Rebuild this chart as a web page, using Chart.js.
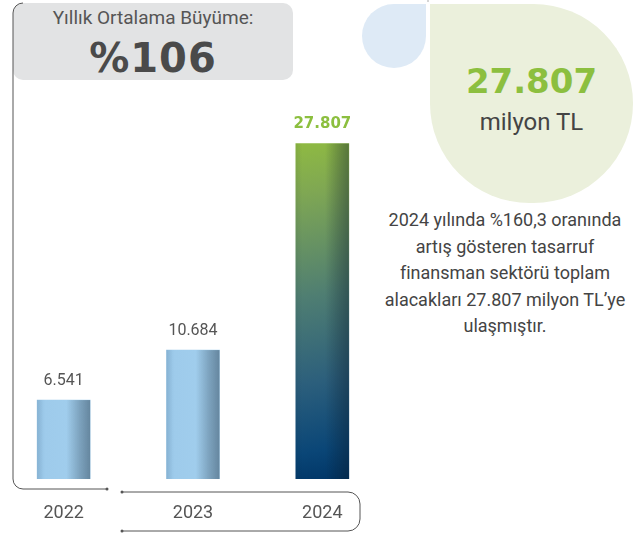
<!DOCTYPE html>
<html lang="tr">
<head>
<meta charset="utf-8">
<script src="https://cdn.jsdelivr.net/npm/chart.js@4/dist/chart.umd.min.js"></script>
<style>
  html, body { margin: 0; padding: 0; background: #fff; }
  body { width: 641px; height: 533px; position: relative; overflow: hidden; font-family: Roboto, "Noto Sans", sans-serif; color: #4d4d4d; }
  .abs { position: absolute; }
  .kalin { font-family: "DejaVu Sans", sans-serif; font-weight: 700; }
  #kutu { left: 13px; top: 3px; width: 280px; height: 77px; background: #e2e3e4; border-radius: 10px; }
  #baslik { left: 13px; top: 8px; width: 280px; text-align: center; font-size: 19px; line-height: 19px; color: #555; }
  #oran { left: 13px; top: 38px; width: 280px; text-align: center; font-size: 40px; line-height: 40px; color: #4a4a4a; letter-spacing: 1px; }
  #mavi { left: 362px; top: 4px; width: 64px; height: 64px; background: #deeaf6; border-radius: 32px 0 32px 32px; }
  #yesil { left: 430px; top: 4px; width: 203px; height: 199px; background: #ebf0dc; border-radius: 0 100px 100px 100px; }
  #toplam { left: 430px; top: 64px; width: 203px; text-align: center; font-size: 34px; line-height: 34px; color: #8cbf3f; }
  #birim { left: 430px; top: 110px; width: 203px; text-align: center; font-size: 24px; line-height: 24px; color: #444; }
  #metin { left: 370px; top: 207px; width: 270px; text-align: center; font-size: 18px; line-height: 26.5px; color: #444; }
  #grafik { position: absolute; left: -1px; top: 0; }
  svg { position: absolute; left: 0; top: 0; }
</style>
</head>
<body>
<div id="kutu" class="abs"></div>
<div id="baslik" class="abs">Yıllık Ortalama Büyüme:</div>
<div id="oran" class="abs kalin">%106</div>
<div id="mavi" class="abs"></div>
<div id="yesil" class="abs"></div>
<div id="toplam" class="abs kalin">27.807</div>
<div id="birim" class="abs">milyon TL</div>
<div id="metin" class="abs">2024 yılında %160,3 oranında<br>artış gösteren tasarruf<br>finansman sektörü toplam<br>alacakları 27.807 milyon TL’ye<br>ulaşmıştır.</div>

<svg width="641" height="533" fill="none" stroke="#555" stroke-width="1">
  <line x1="428" y1="0" x2="428" y2="2" stroke="#aaa" />
  <path d="M23 3 A10 10 0 0 0 13 13 L13 479 A10 10 0 0 0 23 489 L106 489" />
  <circle cx="107" cy="489" r="1.5" fill="#555" stroke="none" />
  <path d="M122 492 L348 492 A12 12 0 0 1 360 504 L360 519 A12 12 0 0 1 348 531 L122 531" />
  <circle cx="122" cy="492" r="1.5" fill="#555" stroke="none" />
  <circle cx="122" cy="531" r="1.5" fill="#555" stroke="none" />
</svg>

<canvas id="grafik" width="388" height="533"></canvas>

<script>
  const yillar = ["2022", "2023", "2024"];
  const alacaklar = [6541, 10684, 27807];
  const etiketler = ["6.541", "10.684", "27.807"];

  // çubuk dolgusu: ilk iki yıl açık mavi, son yıl yeşilden laciverte
  function dolgu(context) {
    const chart = context.chart;
    if (!chart.chartArea) return "#9ecbeb";
    const c = chart.ctx;
    const x = chart.scales.x.getPixelForValue(context.dataIndex);
    const ust = chart.scales.y.getPixelForValue(context.raw);
    const alt = chart.scales.y.getPixelForValue(0);
    if (context.dataIndex < 2) {
      const g = c.createLinearGradient(x - 26, 0, x + 26, 0);
      g.addColorStop(0, "#92c0e2");
      g.addColorStop(0.15, "#9ecbeb");
      g.addColorStop(1, "#a2cfee");
      return g;
    }
    const g = c.createLinearGradient(x - 30, ust, x + 30, alt);
    g.addColorStop(0, "#8fba42");
    g.addColorStop(0.15, "#7fa753");
    g.addColorStop(0.45, "#4f7e72");
    g.addColorStop(0.7, "#2c5f7c");
    g.addColorStop(0.9, "#0a4677");
    g.addColorStop(1, "#003566");
    return g;
  }

  // sağ kenarda koyulaşan gölge
  const golge = {
    id: "golge",
    afterDatasetsDraw(chart) {
      const c = chart.ctx;
      chart.getDatasetMeta(0).data.forEach(bar => {
        const { x, y, base, width } = bar.getProps(["x", "y", "base", "width"], true);
        const sol = x - width / 2;
        const g = c.createLinearGradient(sol, 0, sol + width, 0);
        g.addColorStop(0, "rgba(10,25,40,0.08)");
        g.addColorStop(0.12, "rgba(10,25,40,0)");
        g.addColorStop(0.55, "rgba(10,25,40,0)");
        g.addColorStop(0.8, "rgba(10,25,40,0.24)");
        g.addColorStop(1, "rgba(10,25,40,0.4)");
        c.save();
        c.fillStyle = g;
        c.fillRect(sol, y, width, base - y);
        c.restore();
      });
    }
  };

  // değer ve yıl yazıları
  const yazilar = {
    id: "yazilar",
    afterDraw(chart) {
      const c = chart.ctx;
      const meta = chart.getDatasetMeta(0);
      c.save();
      c.textAlign = "center";
      c.textBaseline = "alphabetic";
      meta.data.forEach((bar, i) => {
        const son = i === alacaklar.length - 1;
        c.font = son ? "bold 15px 'DejaVu Sans'" : "16px Roboto";
        c.fillStyle = son ? "#8cbf3f" : "#555";
        c.fillText(etiketler[i], bar.x, bar.y - 15);
        c.font = "18px Roboto";
        c.fillStyle = "#555";
        c.fillText(yillar[i], chart.scales.x.getPixelForValue(i), 518);
      });
      c.restore();
    }
  };

  new Chart(document.getElementById("grafik").getContext("2d"), {
    type: "bar",
    data: {
      labels: yillar,
      datasets: [{
        data: alacaklar,
        backgroundColor: dolgu,
        borderWidth: 0,
        barThickness: 53
      }]
    },
    options: {
      responsive: false,
      animation: false,
      layout: { padding: { top: 0, bottom: 54, left: 0, right: 0 } },
      plugins: { legend: { display: false }, tooltip: { enabled: false } },
      scales: {
        x: { display: false },
        y: { display: false, min: 0, max: 39700 }
      }
    },
    plugins: [golge, yazilar]
  });
</script>
</body>
</html>
